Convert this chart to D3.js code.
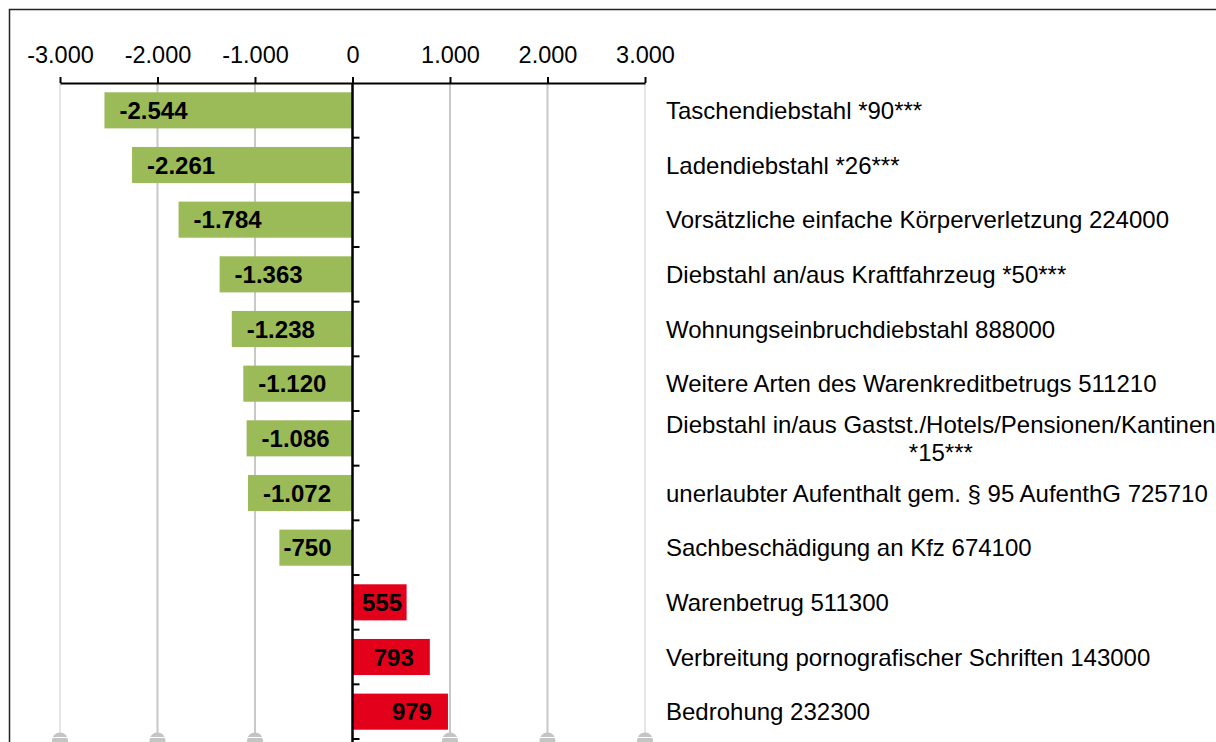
<!DOCTYPE html>
<html>
<head>
<meta charset="utf-8">
<script src="https://cdn.jsdelivr.net/npm/d3@7"></script>
<style>
  body { margin: 0; background: #fff; }
  text { font-family: Arial, "Liberation Sans", sans-serif; }
</style>
</head>
<body>
<script>
// data
const categories = [
  "Taschendiebstahl *90***",
  "Ladendiebstahl *26***",
  "Vorsätzliche einfache Körperverletzung 224000",
  "Diebstahl an/aus Kraftfahrzeug *50***",
  "Wohnungseinbruchdiebstahl 888000",
  "Weitere Arten des Warenkreditbetrugs 511210",
  "Diebstahl in/aus Gastst./Hotels/Pensionen/Kantinen\n*15***",
  "unerlaubter Aufenthalt gem. § 95 AufenthG 725710",
  "Sachbeschädigung an Kfz 674100",
  "Warenbetrug 511300",
  "Verbreitung pornografischer Schriften 143000",
  "Bedrohung 232300"
];
const values = [-2544, -2261, -1784, -1363, -1238, -1120, -1086, -1072, -750, 555, 793, 979];
const tickValues = [-3000, -2000, -1000, 0, 1000, 2000, 3000];

const width = 1216, height = 742;

const de = d3.formatLocale({ decimal: ",", thousands: ".", grouping: [3], currency: ["", "€"], minus: "-" });
const fmt = de.format(",d");

const svg = d3.select("body").append("svg")
  .attr("width", width).attr("height", height);

// rahmen
svg.append("rect")
  .attr("x", 9.5).attr("y", 9.5).attr("width", 1230).attr("height", 760)
  .attr("fill", "none").attr("stroke", "#222").attr("stroke-width", 1.5);

const x = d3.scaleLinear().domain([-3000, 3000]).range([60, 645]);
const y = d3.scaleBand().domain(categories).range([83, 739]).paddingInner(0.34).paddingOuter(0.17);
const x0 = x(0);

// gitternetz
const gridBottom = 733;
svg.append("g").selectAll("line").data(tickValues.filter(d => d !== 0)).enter().append("line")
  .attr("x1", d => x(d)).attr("x2", d => x(d))
  .attr("y1", 83).attr("y2", gridBottom)
  .attr("stroke", d => Math.abs(d) === 3000 ? "#e6e6e6" : "#c8c8c8")
  .attr("stroke-width", 2);

// marker unten
const mk = svg.append("g").selectAll("g").data(tickValues.filter(d => d !== 0)).enter().append("g");
mk.append("circle")
  .attr("cx", d => x(d)).attr("cy", 740.5).attr("r", 8)
  .attr("fill", "#c4c4c4");
mk.append("line")
  .attr("x1", d => x(d) - 9).attr("x2", d => x(d) + 9)
  .attr("y1", 737.5).attr("y2", 737.5)
  .attr("stroke", "#fff").attr("stroke-width", 1);

// balken
svg.append("g").selectAll("rect").data(values).enter().append("rect")
  .attr("x", d => Math.min(x(d), x0))
  .attr("y", (d, i) => y(categories[i]))
  .attr("width", d => Math.abs(x(d) - x0))
  .attr("height", y.bandwidth())
  .attr("fill", d => d < 0 ? "#9bbb59" : "#e2001a");

// werte in den balken
const lbl = svg.append("g").selectAll("text").data(values).enter().append("text")
  .attr("y", (d, i) => y(categories[i]) + y.bandwidth() / 2)
  .attr("dy", "0.36em")
  .attr("font-size", 24).attr("font-weight", "bold").attr("fill", "#000")
  .text(d => fmt(d));
lbl.each(function(d) {
  const w = this.getComputedTextLength();
  let start;
  if (d < 0) {
    start = Math.min(x(d) + 15, x0 - 21 - w);
  } else {
    start = Math.max(x0 + 9.5, x(d) - 16 - w);
  }
  d3.select(this).attr("x", start);
});

// x achse oben
const xAxis = svg.append("g").attr("transform", "translate(0,83)")
  .call(d3.axisTop(x).tickValues(tickValues).tickFormat(fmt).tickSize(6).tickSizeOuter(0));
xAxis.select(".domain").attr("stroke", "#000").attr("stroke-width", 2);
xAxis.selectAll(".tick line").attr("stroke", "#000").attr("stroke-width", 2);
xAxis.selectAll(".tick text")
  .attr("font-size", 23.5).attr("fill", "#000")
  .attr("y", -20.5).attr("dy", 0);

// y achse bei 0
const yTicks = d3.range(categories.length + 1).map(i => 83 + i * y.step());
svg.append("line")
  .attr("x1", x0).attr("x2", x0).attr("y1", 83).attr("y2", 742)
  .attr("stroke", "#000").attr("stroke-width", 2.5);
svg.append("g").selectAll("line").data(yTicks.slice(1)).enter().append("line")
  .attr("x1", x0).attr("x2", x0 + 7)
  .attr("y1", d => d).attr("y2", d => d)
  .attr("stroke", "#000").attr("stroke-width", 2);

// kategorien rechts
const cat = svg.append("g").selectAll("text").data(categories).enter().append("text")
  .attr("font-size", 24).attr("fill", "#000")
  .attr("y", d => y(d) + y.bandwidth() / 2);
cat.each(function(d) {
  const lines = d.split("\n");
  const t = d3.select(this);
  if (lines.length === 1) {
    t.attr("x", 666).attr("dy", "0.36em").text(d);
  } else {
    const first = t.append("tspan").attr("x", 666).attr("dy", "-0.22em").text(lines[0]);
    const w = first.node().getComputedTextLength();
    t.append("tspan").attr("x", 666 + w / 2).attr("dy", "1.17em")
      .attr("text-anchor", "middle").text(lines[1]);
  }
});
</script>
</body>
</html>
